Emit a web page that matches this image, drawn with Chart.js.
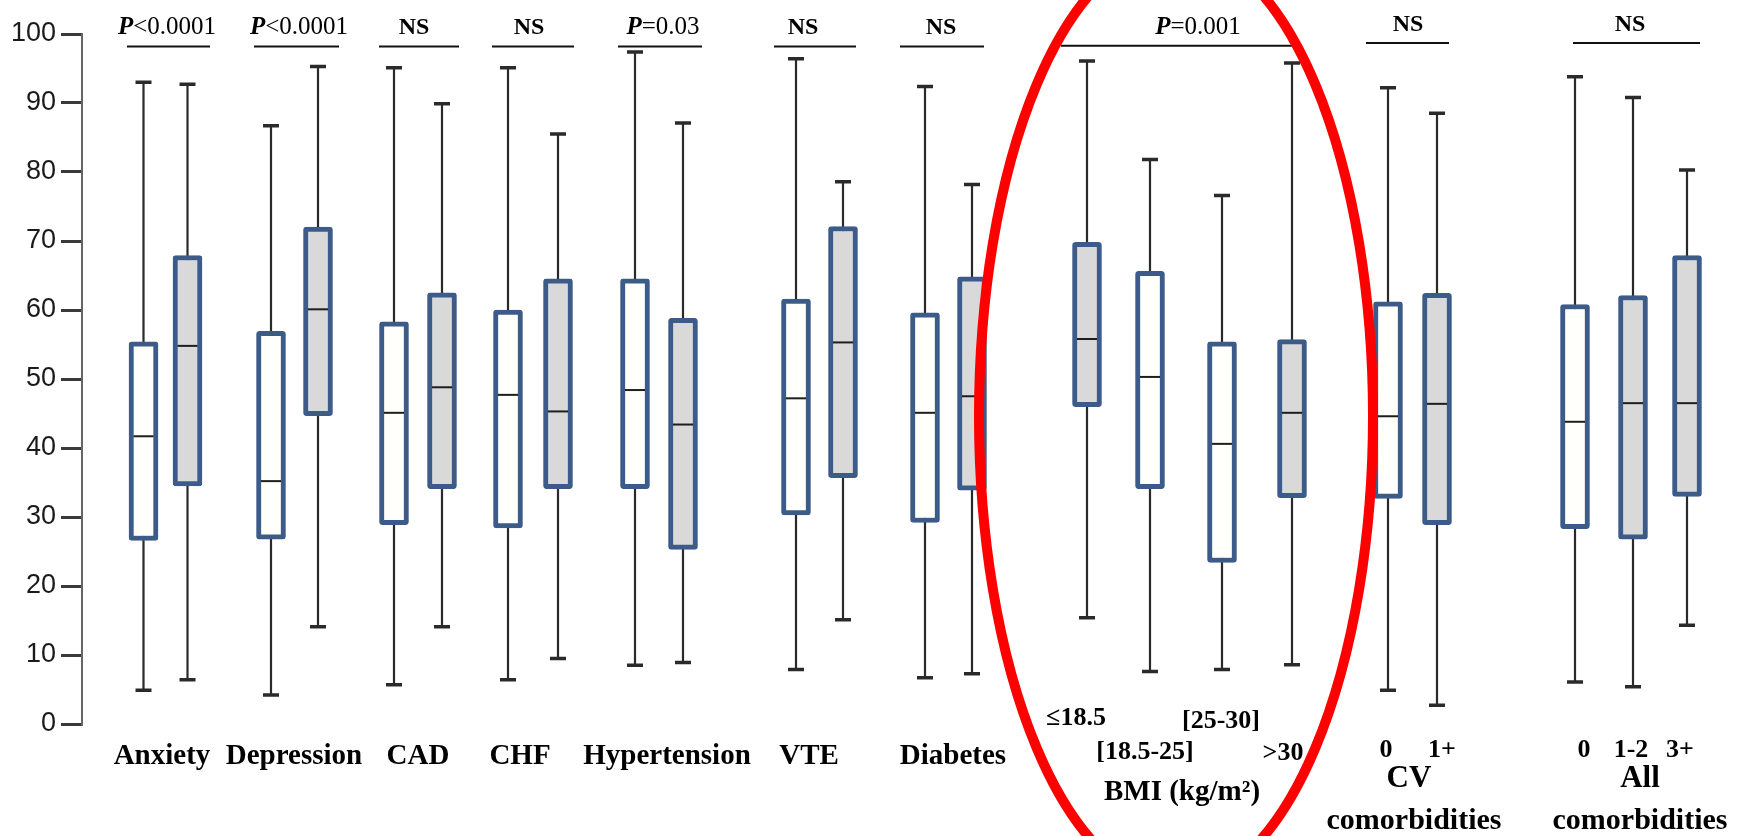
<!DOCTYPE html>
<html>
<head>
<meta charset="utf-8">
<script src="https://cdn.jsdelivr.net/npm/chart.js@4.4.1/dist/chart.umd.min.js"></script>
<style>
html, body { margin: 0; padding: 0; background: #fff; }
#wrap { width: 1741px; height: 836px; position: relative; }
</style>
</head>
<body>
<div id="wrap"><canvas id="chart"></canvas></div>
<script>
// Box values (score 0-100), one entry per box, left to right
const whiskerLow  = [4.9, 6.4, 4.2, 14.1, 5.7, 14.1, 6.4, 9.5, 8.5, 8.9, 7.9, 15.1, 6.7, 7.3, 15.4, 7.6, 7.9, 8.6, 4.9, 2.7, 6.1, 5.4, 14.3];
const q1          = [26.6, 34.5, 26.8, 44.7, 28.9, 34.1, 28.4, 34.1, 34.1, 25.3, 30.3, 35.7, 29.2, 33.9, 46.0, 34.1, 23.4, 32.8, 32.7, 28.9, 28.3, 26.8, 33.0];
const median      = [41.7, 54.8, 35.2, 60.1, 45.1, 48.8, 47.7, 45.3, 48.4, 43.4, 47.2, 55.3, 45.1, 47.5, 55.8, 50.3, 40.6, 45.1, 44.6, 46.4, 43.8, 46.5, 46.5];
const q3          = [55.4, 67.9, 56.9, 72.0, 58.3, 62.5, 60.0, 64.5, 64.5, 58.8, 61.6, 72.1, 59.6, 64.8, 69.8, 65.6, 55.4, 55.7, 61.2, 62.4, 60.8, 62.1, 67.9];
const whiskerHigh = [93.0, 92.7, 86.7, 95.3, 95.1, 89.9, 95.1, 85.5, 97.4, 87.1, 96.4, 78.6, 92.4, 78.2, 96.1, 81.8, 76.6, 95.8, 92.2, 88.5, 93.8, 90.8, 80.3];

// Labels
const categories = ['Anxiety', 'Depression', 'CAD', 'CHF', 'Hypertension', 'VTE', 'Diabetes'];
const bmiBins = ['≤18.5', '[18.5-25]', '[25-30]', '>30'];
const cvBins = ['0', '1+'];
const allBins = ['0', '1-2', '3+'];
const pValues = ['P<0.0001', 'P<0.0001', 'NS', 'NS', 'P=0.03', 'NS', 'NS', 'P=0.001', 'NS', 'NS'];
const yTicks = [0, 10, 20, 30, 40, 50, 60, 70, 80, 90, 100];

// Layout (x axis units = px right of the y axis)
const boxX = [61.5, 105.5, 189, 236, 312, 360, 426, 476, 553, 601, 714, 761, 843, 890, 1005, 1068, 1140, 1210, 1306, 1355, 1493, 1551, 1605];
const boxShaded = [0, 1, 0, 1, 0, 1, 0, 1, 0, 1, 0, 1, 0, 1, 1, 0, 0, 1, 0, 1, 0, 1, 1];
const categoryX = [80, 212, 336, 438, 585, 727, 871];
const bmiX = [994, 1063, 1139, 1201], bmiDy = [-6, 28, -3, 29];
const cvX = [1304, 1360];
const allX = [1502, 1549, 1598];
const sigSpan = [[45, 128], [172, 257], [297, 377], [410, 492], [536, 620], [692, 774], [818, 902], [979, 1210], [1284, 1367], [1491, 1618]];
const sigTextX = [85, 217, 332, 447, 581, 721, 859, 1116, 1326, 1548];
const sigBarY = [98.2, 98.2, 98.2, 98.2, 98.2, 98.2, 98.2, 98.3, 98.7, 98.7];

const SERIF = '"Liberation Serif", "Times New Roman", serif';

function drawText(ctx, text, x, y, size, weight) {
    ctx.font = weight + ' ' + size + 'px ' + SERIF;
    ctx.fillText(text, x, y);
}

// P value: italic bold P, the rest regular
function drawPValue(ctx, text, cx, baseY) {
    ctx.textAlign = 'left';
    ctx.textBaseline = 'alphabetic';
    if (text.charAt(0) === 'P') {
        const head = 'italic bold 25px ' + SERIF;
        const tail = 'normal 25px ' + SERIF;
        ctx.font = head;
        const w1 = ctx.measureText('P').width;
        ctx.font = tail;
        const w2 = ctx.measureText(text.slice(1)).width;
        const x0 = cx - (w1 + w2) / 2;
        ctx.font = head;
        ctx.fillText('P', x0, baseY);
        ctx.font = tail;
        ctx.fillText(text.slice(1), x0 + w1, baseY);
    } else {
        ctx.font = 'bold 24px ' + SERIF;
        ctx.textAlign = 'center';
        ctx.fillText(text, cx, baseY);
    }
}

const boxPlotPlugin = {
    id: 'boxPlot',
    // Whiskers behind the boxes
    beforeDatasetsDraw(chart) {
        const { ctx, scales: { x, y } } = chart;
        ctx.save();
        ctx.strokeStyle = '#2a2a2a';
        for (let i = 0; i < boxX.length; i++) {
            const px = x.getPixelForValue(boxX[i]);
            const lo = y.getPixelForValue(whiskerLow[i]);
            const hi = y.getPixelForValue(whiskerHigh[i]);
            ctx.lineWidth = 2.2;
            ctx.beginPath();
            ctx.moveTo(px, lo);
            ctx.lineTo(px, hi);
            ctx.stroke();
            ctx.lineWidth = 3.5;
            ctx.beginPath();
            ctx.moveTo(px - 8, hi); ctx.lineTo(px + 8, hi);
            ctx.moveTo(px - 8, lo); ctx.lineTo(px + 8, lo);
            ctx.stroke();
        }
        ctx.restore();
    },
    // Median lines on top of the boxes
    afterDatasetsDraw(chart) {
        const { ctx, scales: { x, y } } = chart;
        ctx.save();
        ctx.strokeStyle = '#1e1e1e';
        ctx.lineWidth = 2;
        for (let i = 0; i < boxX.length; i++) {
            const px = x.getPixelForValue(boxX[i]);
            const py = y.getPixelForValue(median[i]);
            ctx.beginPath();
            ctx.moveTo(px - 10, py);
            ctx.lineTo(px + 10, py);
            ctx.stroke();
        }
        ctx.restore();
    },
    afterDraw(chart) {
        const { ctx, chartArea, scales: { x, y } } = chart;
        const bottom = chartArea.bottom;
        ctx.save();
        ctx.fillStyle = '#000';

        // significance bars and texts
        ctx.strokeStyle = '#111';
        ctx.lineWidth = 2;
        for (let i = 0; i < sigSpan.length; i++) {
            const by = y.getPixelForValue(sigBarY[i]);
            ctx.beginPath();
            ctx.moveTo(x.getPixelForValue(sigSpan[i][0]), by);
            ctx.lineTo(x.getPixelForValue(sigSpan[i][1]), by);
            ctx.stroke();
            drawPValue(ctx, pValues[i], x.getPixelForValue(sigTextX[i]), by - 12);
        }

        // category labels
        ctx.textAlign = 'center';
        ctx.textBaseline = 'alphabetic';
        categories.forEach((c, i) => drawText(ctx, c, x.getPixelForValue(categoryX[i]), bottom + 40, 29, 'bold'));

        ctx.textBaseline = 'middle';
        bmiBins.forEach((c, i) => drawText(ctx, c, x.getPixelForValue(bmiX[i]), bottom + bmiDy[i], 26, 'bold'));
        drawText(ctx, 'BMI (kg/m²)', x.getPixelForValue(1100), bottom + 69, 29, 'bold');

        cvBins.forEach((c, i) => drawText(ctx, c, x.getPixelForValue(cvX[i]), bottom + 26, 26, 'bold'));
        drawText(ctx, 'CV', x.getPixelForValue(1327), bottom + 55, 31, 'bold');
        drawText(ctx, 'comorbidities', x.getPixelForValue(1332), bottom + 97, 30, 'bold');

        allBins.forEach((c, i) => drawText(ctx, c, x.getPixelForValue(allX[i]), bottom + 26, 26, 'bold'));
        drawText(ctx, 'All', x.getPixelForValue(1558), bottom + 55, 31, 'bold');
        drawText(ctx, 'comorbidities', x.getPixelForValue(1558), bottom + 97, 30, 'bold');

        // red ellipse around the BMI group
        const cx = x.getPixelForValue(1094);
        const cy = y.getPixelForValue(44.6);
        const rx = x.getPixelForValue(1094 + 197) - cx;
        const ry = y.getPixelForValue(44.6 - 68) - cy;
        ctx.strokeStyle = '#ff0000';
        ctx.lineWidth = 10;
        ctx.beginPath();
        ctx.ellipse(cx, cy, rx, ry, 0, 0, Math.PI * 2);
        ctx.stroke();
        ctx.restore();
    }
};

const boxData = boxX.map((v, i) => ({ x: v, y: [q1[i], q3[i]] }));

new Chart(document.getElementById('chart').getContext('2d'), {
    type: 'bar',
    data: {
        datasets: [{
            data: boxData,
            backgroundColor: boxShaded.map(s => s ? '#d9d9d9' : '#fffffb'),
            borderColor: '#3c5b89',
            borderWidth: 5,
            borderSkipped: false,
            borderRadius: 3,
            barThickness: 29
        }]
    },
    options: {
        responsive: true,
        maintainAspectRatio: false,
        animation: false,
        layout: { padding: { top: 34, bottom: 112, left: 0, right: 0 } },
        plugins: {
            legend: { display: false },
            tooltip: { enabled: false }
        },
        scales: {
            x: { type: 'linear', min: 0, max: 1659, offset: false, display: false },
            y: {
                min: 0,
                max: 100,
                afterBuildTicks(scale) { scale.ticks = yTicks.map(v => ({ value: v })); },
                afterFit(scale) { scale.width = 82; },
                ticks: {
                    padding: 5,
                    color: '#1a1a1a',
                    font: { family: '"Liberation Sans", Arial, sans-serif', size: 27 }
                },
                grid: { drawOnChartArea: false, tickLength: 21, color: '#3a3a3a', lineWidth: 3 },
                border: { color: '#666', width: 2 }
            }
        }
    },
    plugins: [boxPlotPlugin]
});
</script>
</body>
</html>
